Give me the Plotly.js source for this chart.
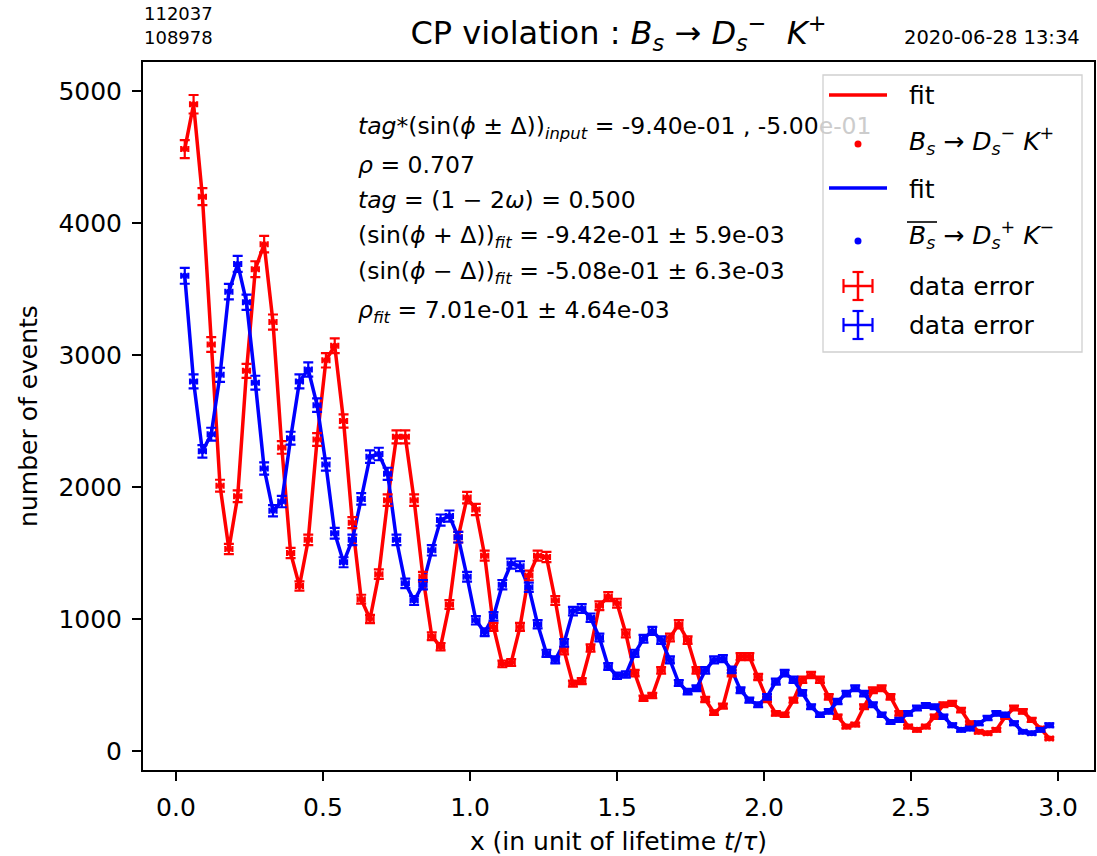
<!DOCTYPE html>
<html>
<head>
<meta charset="utf-8">
<script src="https://cdn.plot.ly/plotly-3.0.1.min.js"></script>
<style>html,body{margin:0;padding:0;background:#fff}#chart{width:1097px;height:856px}</style>
</head>
<body>
<div id="chart"></div>
<script>
// ---- data ----
const xValues = [0.03,0.06,0.09,0.12,0.15,0.18,0.21,0.24,0.27,0.30,
  0.33,0.36,0.39,0.42,0.45,0.48,0.51,0.54,0.57,0.60,
  0.63,0.66,0.69,0.72,0.75,0.78,0.81,0.84,0.87,0.90,
  0.93,0.96,0.99,1.02,1.05,1.08,1.11,1.14,1.17,1.20,
  1.23,1.26,1.29,1.32,1.35,1.38,1.41,1.44,1.47,1.50,
  1.53,1.56,1.59,1.62,1.65,1.68,1.71,1.74,1.77,1.80,
  1.83,1.86,1.89,1.92,1.95,1.98,2.01,2.04,2.07,2.10,
  2.13,2.16,2.19,2.22,2.25,2.28,2.31,2.34,2.37,2.40,
  2.43,2.46,2.49,2.52,2.55,2.58,2.61,2.64,2.67,2.70,
  2.73,2.76,2.79,2.82,2.85,2.88,2.91,2.94,2.97];

// B_s -> D_s^- K^+ (red)
const countsBs = [4560,4900,4200,3080,2010,1530,1930,2880,3650,3840,
  3250,2300,1500,1250,1600,2360,2960,3070,2500,1730,
  1150,1000,1340,1900,2380,2380,1900,1320,870,790,
  1110,1620,1920,1830,1480,940,660,670,940,1330,
  1480,1470,1140,760,510,530,780,1100,1170,1120,
  890,590,400,420,610,860,960,840,610,390,
  290,340,590,715,715,560,390,285,275,385,
  540,575,540,410,260,185,200,335,460,475,
  410,285,185,160,185,260,350,360,310,210,
  145,135,160,260,325,300,235,170,95];

// anti-B_s -> D_s^+ K^- (blue)
const countsBsBar = [3600,2800,2270,2400,2850,3480,3690,3400,2790,2140,
  1820,1890,2370,2800,2890,2620,2170,1650,1430,1600,
  1910,2230,2250,2100,1600,1270,1140,1260,1520,1750,
  1780,1620,1320,990,900,1020,1260,1420,1400,1240,
  960,740,690,820,1060,1080,1010,860,640,570,
  580,740,850,910,840,690,515,450,475,610,
  690,700,615,460,385,350,410,525,590,540,
  440,335,275,300,375,435,475,435,350,275,
  220,235,285,325,345,335,260,195,160,170,
  210,250,285,275,210,145,135,160,195];

const xTickVals = [0, 0.5, 1.0, 1.5, 2.0, 2.5, 3.0];
const xTickText = ['0.0','0.5','1.0','1.5','2.0','2.5','3.0'];
const yTickVals = [0, 1000, 2000, 3000, 4000, 5000];
const yTickText = ['0','1000','2000','3000','4000','5000'];

const infoLines = [
  "<i>tag</i>*(sin(<i>ϕ</i> ± Δ))<sub><i>input</i></sub> = -9.40e-01 , -5.00<span style='color:#cccccc'>e-01</span>",
  "<i>ρ</i> = 0.707",
  "<i>tag</i> = (1 − 2<i>ω</i>) = 0.500",
  "(sin(<i>ϕ</i> + Δ))<sub><i>fit</i></sub> = -9.42e-01 ± 5.9e-03",
  "(sin(<i>ϕ</i> − Δ))<sub><i>fit</i></sub> = -5.08e-01 ± 6.3e-03",
  "<i>ρ</i><sub><i>fit</i></sub> = 7.01e-01 ± 4.64e-03"
];
const legendLabels = [
  "fit",
  "<i>B</i><sub><i>s</i></sub> → <i>D</i><sub><i>s</i></sub><sup>−</sup>\u00a0<i>K</i><sup>+</sup>",
  "fit",
  "<i>B</i><sub><i>s</i></sub> → <i>D</i><sub><i>s</i></sub><sup>+</sup>\u00a0<i>K</i><sup>−</sup>",
  "data error",
  "data error"
];
const headerLines = ['112037', '108978'];
const dateText = '2020-06-28 13:34';
const RED = '#ff0000', BLUE = '#0000ff';

// ---- geometry helpers (pixel -> paper) ----
const W = 1097, H = 856, L = 143, R = 1094, T = 62, B = 770;
const px = x => (x - L) / (R - L);
const py = y => (B - y) / (B - T);

const traces = [
  {x: xValues, y: countsBs, mode: 'lines', line: {color: RED, width: 3.5}, hoverinfo: 'skip'},
  {x: xValues, y: countsBsBar, mode: 'lines', line: {color: BLUE, width: 3.5}, hoverinfo: 'skip'},
  {x: xValues, y: countsBs, mode: 'markers', marker: {color: RED, size: 6},
   error_y: {type: 'sqrt', color: RED, thickness: 2.2, width: 5},
   error_x: {type: 'constant', value: 0.012, color: RED, thickness: 2.2, width: 3}},
  {x: xValues, y: countsBsBar, mode: 'markers', marker: {color: BLUE, size: 6},
   error_y: {type: 'sqrt', color: BLUE, thickness: 2.2, width: 5},
   error_x: {type: 'constant', value: 0.012, color: BLUE, thickness: 2.2, width: 3}}
];

const shapes = [];
function seg(x0, y0, x1, y1, color, w) {
  shapes.push({type: 'line', xref: 'paper', yref: 'paper', x0: px(x0), y0: py(y0), x1: px(x1), y1: py(y1),
    line: {color: color, width: w}, layer: 'above'});
}
function dot(cx, cy, r, color) {
  shapes.push({type: 'circle', xref: 'paper', yref: 'paper', x0: px(cx - r), x1: px(cx + r), y0: py(cy + r), y1: py(cy - r),
    fillcolor: color, line: {width: 0}, layer: 'above'});
}
function cross(cx, cy, color) {
  seg(cx - 14.5, cy, cx + 14.5, cy, color, 2.5);
  seg(cx - 14.5, cy - 7, cx - 14.5, cy + 7, color, 2.2);
  seg(cx + 14.5, cy - 7, cx + 14.5, cy + 7, color, 2.2);
  seg(cx, cy - 14, cx, cy + 14, color, 2.5);
  seg(cx - 5.5, cy - 14, cx + 5.5, cy - 14, color, 2.2);
  seg(cx - 5.5, cy + 14, cx + 5.5, cy + 14, color, 2.2);
}
// legend frame
shapes.push({type: 'rect', xref: 'paper', yref: 'paper', x0: px(823), x1: px(1082), y0: py(352), y1: py(75),
  fillcolor: 'rgba(255,255,255,0.8)', line: {color: '#d0d0d0', width: 1.3}, layer: 'above'});
seg(829, 95, 887, 95, RED, 3.5);
dot(858, 144, 3.5, RED);
seg(829, 188, 887, 188, BLUE, 3.5);
dot(858, 241, 3.5, BLUE);
cross(858, 286, RED);
cross(858, 325, BLUE);
// overline on anti-B_s
seg(907, 222, 937, 222, '#000000', 1.6);

const annotations = [];
function txt(text, x, y, size, anchor, color) {
  annotations.push({text: text, xref: 'paper', yref: 'paper', x: px(x), y: py(y), xanchor: anchor || 'left',
    yanchor: 'middle', showarrow: false, font: {family: 'DejaVu Sans', size: size, color: color || '#000000'}});
}
const infoY = [127, 165, 200, 237, 272, 311];
infoLines.forEach((t, i) => txt(t, 356, infoY[i], 23.5));
const legY = [96, 141, 189, 235, 286, 325];
legendLabels.forEach((t, i) => txt(t, 907, legY[i], 25));
txt(headerLines[0], 142, 14, 18);
txt(headerLines[1], 142, 37, 18);
txt(dateText, 1082, 37, 19.5, 'right');

const axisCommon = {
  ticks: 'outside', ticklen: 9, tickwidth: 2, tickcolor: '#000',
  showline: true, linecolor: '#000', linewidth: 2, mirror: true,
  showgrid: false, zeroline: false, tickfont: {family: 'DejaVu Sans', size: 25, color: '#000'},
  ticklabelstandoff: 5
};
const layout = {
  width: W, height: H,
  margin: {l: L, r: W - R, t: T, b: H - B, pad: 0},
  paper_bgcolor: '#ffffff', plot_bgcolor: '#ffffff',
  showlegend: false,
  font: {family: 'DejaVu Sans', size: 25, color: '#000'},
  title: {text: "CP violation : <i>B</i><sub><i>s</i></sub> → <i>D</i><sub><i>s</i></sub><sup>−</sup>\u00a0\u00a0<i>K</i><sup>+</sup>",
    font: {family: 'DejaVu Sans', size: 32, color: '#000'},
    xref: 'paper', x: 0.5, xanchor: 'center', yref: 'container', y: 1 - 33 / H, yanchor: 'middle'},
  xaxis: Object.assign({}, axisCommon, {range: [-0.112, 3.122], tickvals: xTickVals, ticktext: xTickText,
    title: {text: 'x (in unit of lifetime <i>t</i>/<i>τ</i>)', font: {family: 'DejaVu Sans', size: 25, color: '#000'}, standoff: 12}}),
  yaxis: Object.assign({}, axisCommon, {range: [-144, 5220], tickvals: yTickVals, ticktext: yTickText,
    title: {text: 'number of events', font: {family: 'DejaVu Sans', size: 25, color: '#000'}, standoff: 14}}),
  shapes: shapes,
  annotations: annotations
};
Plotly.newPlot('chart', traces, layout, {displayModeBar: false, staticPlot: true});
</script>
</body>
</html>
